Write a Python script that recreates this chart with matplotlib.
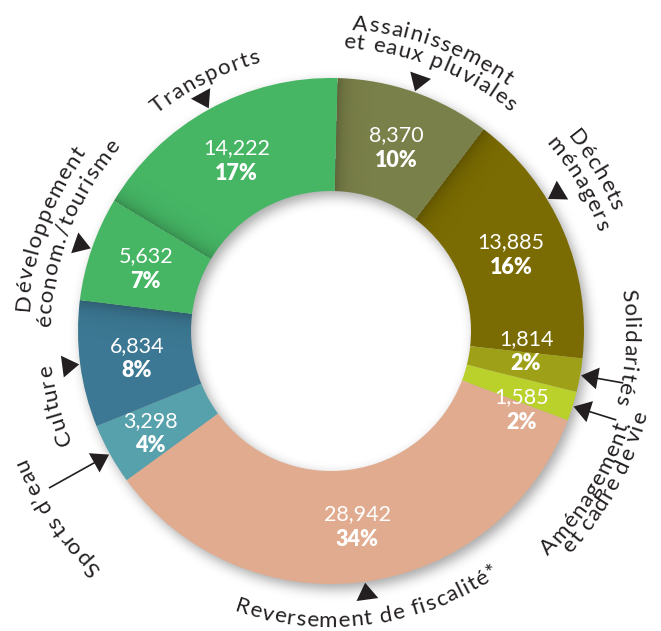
import numpy as np
import matplotlib
matplotlib.use("Agg")
import matplotlib.pyplot as plt
from matplotlib.font_manager import FontProperties
from matplotlib.patches import Polygon

# ---- data -------------------------------------------------------------
categories = [
    "Assainissement\net eaux pluviales",
    "Déchets\nménagers",
    "Solidarités",
    "Aménagement\net cadre de vie",
    "Reversement de fiscalité*",
    "Sports d’eau",
    "Culture",
    "Développement\néconom./tourisme",
    "Transports",
]
values = [8370, 13885, 1814, 1585, 28942, 3298, 6834, 5632, 14222]
colors = ["#7a8049", "#7a6b02", "#9ea117", "#bad12c", "#e0ab8f",
          "#56a1ac", "#3c7893", "#46b665", "#46b665"]

# ---- layout -----------------------------------------------------------
W, H = 661, 631
CX, CY = 331, 300          # centre in data units (1 unit = 1 px, y up)
R_OUT, R_IN = 253, 140
START = 1.5                # clockwise offset of the first wedge from 12 o'clock
TXT = "#231f20"

fig = plt.figure(figsize=(W / 100, H / 100), dpi=100)
ax = fig.add_axes([0, 0, 1, 1])
renderer = fig.canvas.get_renderer()

total = float(sum(values))
spans = [360.0 * v / total for v in values]
starts = START + np.concatenate([[0], np.cumsum(spans)[:-1]])
mids = starts + np.array(spans) / 2

# pixel grid (row 0 = top of the image)
yy, xx = np.mgrid[0:H, 0:W] + 0.5


def gauss_blur(a, sig):
    k = np.arange(-3 * sig, 3 * sig + 1)
    g = np.exp(-k ** 2 / (2 * sig ** 2))
    g /= g.sum()
    a = np.apply_along_axis(lambda m: np.convolve(m, g, mode="same"), 0, a)
    return np.apply_along_axis(lambda m: np.convolve(m, g, mode="same"), 1, a)


# soft drop shadow of the ring
d_sh = np.hypot(xx - (CX + 4), yy - ((H - CY) + 5))
ring_sh = ((d_sh > R_IN) & (d_sh < R_OUT)).astype(float)
shadow = np.zeros((H, W, 4))
shadow[..., 3] = 0.35 * gauss_blur(ring_sh, 6)
ax.imshow(shadow, extent=(0, W, 0, H), origin="upper", zorder=0,
          interpolation="bilinear")

wedges, _ = ax.pie(values, colors=colors, startangle=90 - START,
                   counterclock=False, radius=R_OUT, center=(CX, CY),
                   wedgeprops=dict(width=R_OUT - R_IN, linewidth=0,
                                   edgecolor="none"))
for w in wedges:
    w.set_zorder(2)

# shading along some wedge seams
dx, dy = xx - CX, (H - CY) - yy
dist = np.hypot(dx, dy)
clock = np.degrees(np.arctan2(dx, dy)) % 360
ring = np.clip(dist - R_IN + 0.5, 0, 1) * np.clip(R_OUT - dist + 0.5, 0, 1)
seam_alpha = np.zeros_like(dist)
bounds = np.concatenate([starts, [starts[0] + 360]])
# (boundary index, side): +1 shades the wedge after the seam, -1 the one before
for bi, side in [(0, 1), (1, 1), (8, 1), (7, -1)]:
    b = bounds[bi] % 360
    ang = ((clock - b + 180) % 360) - 180
    px = side * np.radians(ang) * dist
    a = np.where(px >= 0, 0.22 * np.exp(-px / 9.0), 0.0)
    seam_alpha = np.maximum(seam_alpha, a)
seam = np.zeros((H, W, 4))
seam[..., 3] = seam_alpha * ring
ax.imshow(seam, extent=(0, W, 0, H), origin="upper", zorder=3,
          interpolation="bilinear")


def polar(theta, r):
    t = np.radians(theta)
    return CX + r * np.sin(t), CY + r * np.cos(t)


# ---- inner value labels -----------------------------------------------
num_fp = FontProperties(family="Lato", weight="normal", size=15.5)
pct_fp = FontProperties(family="Lato", weight="heavy", size=15.5)
label_nudge = {2: -4.6, 3: 4.7}
label_radius = {3: 206, 5: 207}
for i, v in enumerate(values):
    th = mids[i] + label_nudge.get(i, 0)
    x, y = polar(th, label_radius.get(i, 196))
    ax.text(x, y + 5, f"{v:,}", ha="center", va="baseline", color="white",
            fontproperties=num_fp, zorder=5)
    ax.text(x, y - 20.5, f"{round(100 * v / total)}%", ha="center",
            va="baseline", color="white", fontproperties=pct_fp, zorder=5)

# ---- outer labels along the ring ---------------------------------------
lab_fp = FontProperties(family="Lato", weight="normal", size=16)
TRACK = 1.2


def char_width(ch, fp):
    a = renderer.get_text_width_height_descent("x" + ch + "x", fp, ismath=False)[0]
    b = renderer.get_text_width_height_descent("xx", fp, ismath=False)[0]
    return a - b


def arc_text(text, theta_c, r, style):
    widths = [char_width(ch, lab_fp) + TRACK for ch in text]
    total_w = sum(widths) - TRACK
    sign = 1 if style == "top" else -1
    theta0 = theta_c - sign * np.degrees(total_w / 2 / r)
    pos = 0.0
    for ch, wd in zip(text, widths):
        th = theta0 + sign * np.degrees((pos + (wd - TRACK) / 2) / r)
        rot = -th if style == "top" else 180 - th
        x, y = polar(th, r)
        ax.text(x, y, ch, rotation=rot, rotation_mode="anchor", ha="center",
                va="baseline", fontproperties=lab_fp, color=TXT, zorder=5)
        pos += wd


def arrow(theta, tail=None):
    tip = polar(theta, R_OUT + 1)
    bc = np.array(polar(theta, R_OUT + 18))
    t = np.radians(theta)
    perp = np.array([np.cos(t), -np.sin(t)]) * 11
    ax.add_patch(Polygon([tip, bc + perp, bc - perp], closed=True,
                         facecolor=TXT, edgecolor="none", zorder=5))
    if tail is not None:
        x0, y0 = polar(theta, R_OUT + 14)
        x1, y1 = polar(theta, tail)
        ax.plot([x0, x1], [y0, y1], color=TXT, lw=1.2, zorder=5)


# per category: arrow offset, leader tail, style, [(radius, angle offset)]
placement = [
    (0.0, None, "top", [(302, 0.5), (283, 1.5)]),
    (-8.0, None, "top", [(306, 0.0), (285, 0.5)]),
    (0.0, 296, "top", [(293, -7.0)]),
    (0.0, 298, "bottom", [(312, 14.5), (327, 11.5)]),
    (0.0, None, "bottom", [(296, 0.0)]),
    (0.0, 322, "top", [(330, -5.0)]),
    (0.0, None, "top", [(282, -7.5)]),
    (0.0, None, "top", [(303, 1.0), (280, 2.0)]),
    (0.0, None, "top", [(278, 2.0)]),
]
for i, (aoff, tail, style, lines) in enumerate(placement):
    th = mids[i] + aoff
    arrow(th, tail)
    for text, (r, off) in zip(categories[i].split("\n"), lines):
        arc_text(text, th + off, r, style)

ax.set_xlim(0, W)
ax.set_ylim(0, H)
ax.set_aspect("equal")
ax.axis("off")
fig.savefig("out.png", dpi=100, facecolor="white")
